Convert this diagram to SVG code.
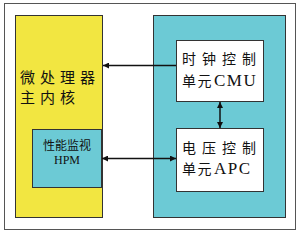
<svg xmlns="http://www.w3.org/2000/svg" width="300" height="235" viewBox="0 0 300 235">
<defs>
<style>
.cn{font-family:"Noto Sans CJK SC","Noto Sans",sans-serif;fill:#111}
.en{font-family:"Liberation Serif",serif;fill:#111}
.ln{stroke:#111;stroke-width:1.5;fill:none}
</style>
<marker id="ah" viewBox="0 0 10 10" refX="10" refY="5" markerWidth="6" markerHeight="6" orient="auto-start-reverse" markerUnits="userSpaceOnUse"><path d="M0,0 L10,5 L0,10 z" fill="#111"/></marker>
</defs>
<rect x="0" y="0" width="300" height="235" fill="#fff"/>
<rect id="frame" x="4.5" y="3.5" width="291" height="226" fill="#fff" stroke="#555" stroke-width="1"/>
<g id="cpu">
<rect x="15.5" y="15.5" width="87" height="202" fill="#f2e641" stroke="#333" stroke-width="1"/>
<text class="cn" x="20" y="83" font-size="15" letter-spacing="5">微处理器</text>
<text class="cn" x="20" y="103" font-size="15" letter-spacing="5">主内核</text>
</g>
<g id="hpm">
<rect x="32.5" y="129.5" width="69" height="58" fill="#6ccad5" stroke="#333" stroke-width="1"/>
<text class="cn" x="67" y="150" font-size="12" text-anchor="middle">性能监视</text>
<text class="en" x="67" y="164" font-size="12" text-anchor="middle">HPM</text>
</g>
<g id="ctrl">
<rect x="153.5" y="15.5" width="132" height="202" fill="#6ccad5" stroke="#333" stroke-width="1"/>
</g>
<g id="cmu">
<rect x="176.5" y="40.5" width="87" height="61" fill="#fff" stroke="#333" stroke-width="1"/>
<text class="cn" x="182" y="64" font-size="14" letter-spacing="6">时钟控制</text>
<text x="182" y="86"><tspan class="cn" font-size="14" letter-spacing="1.5">单元</tspan><tspan class="en" x="214" font-size="17" letter-spacing="1.5">CMU</tspan></text>
</g>
<g id="apc">
<rect x="176.5" y="128.5" width="87" height="63" fill="#fff" stroke="#333" stroke-width="1"/>
<text class="cn" x="182" y="153" font-size="14" letter-spacing="6">电压控制</text>
<text x="182" y="174"><tspan class="cn" font-size="14" letter-spacing="1.5">单元</tspan><tspan class="en" x="214" font-size="17" letter-spacing="1.5">APC</tspan></text>
</g>
<g id="connectors">
<line class="ln" x1="176" y1="65.5" x2="103" y2="65.5" marker-end="url(#ah)"/>
<line class="ln" x1="102" y1="158.5" x2="176" y2="158.5" marker-start="url(#ah)" marker-end="url(#ah)"/>
<line class="ln" x1="220" y1="102" x2="220" y2="128" marker-start="url(#ah)" marker-end="url(#ah)"/>
</g>
</svg>
